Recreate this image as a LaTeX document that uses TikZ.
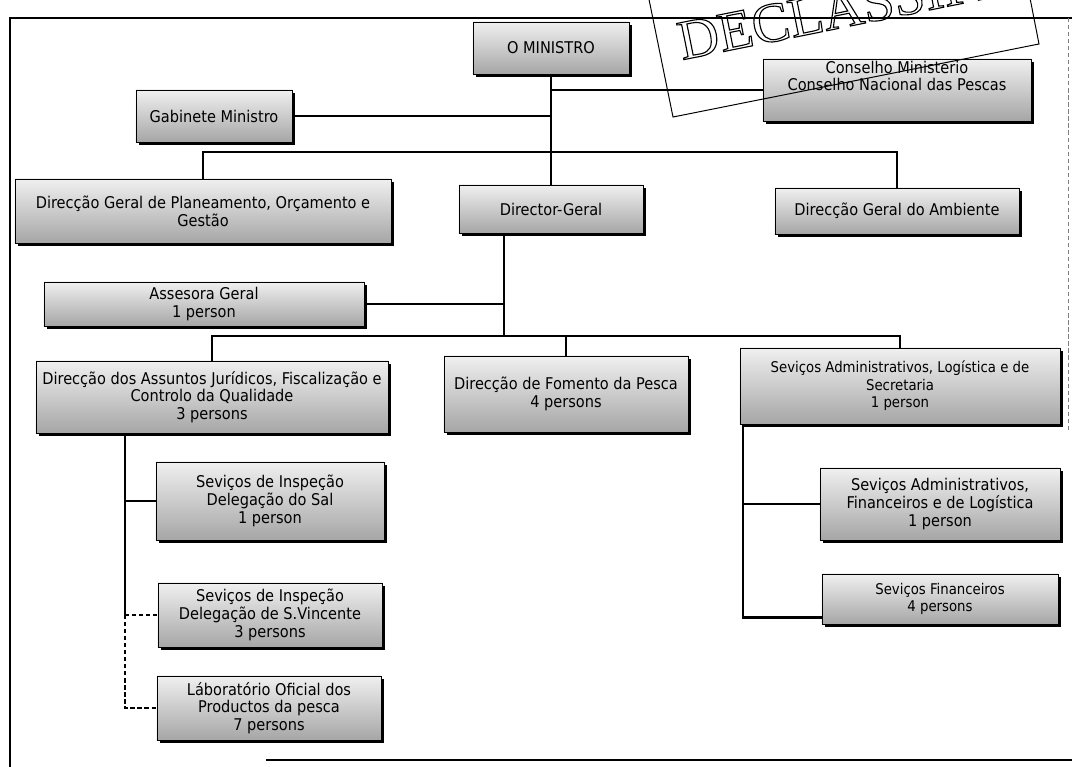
\documentclass[tikz,border=0pt]{standalone}
\usepackage{fontspec}
\setmainfont{DejaVu Sans Condensed}
\newfontfamily\stampfont{Liberation Serif}
\usetikzlibrary{shadows}

\begin{document}
\begin{tikzpicture}[x=0.025cm, y=-0.025cm,
  font=\fontsize{11.5}{12.6}\selectfont,
  box/.style={draw, line width=0.5pt, top color=gray!12, bottom color=gray!70,
    align=center, inner sep=1pt,
    drop shadow={shadow xshift=2pt, shadow yshift=-2pt, fill=black, opacity=1}},
  small/.style={font=\fontsize{10.5}{12.4}\selectfont},
  wire/.style={line width=1.9pt},
  dwire/.style={line width=1.3pt, densely dashed}]
\useasboundingbox (0,0) rectangle (1072,767);
\clip (0,0) rectangle (1072,767);

% page frame
\draw[line width=0.8pt] (1072,18) -- (10,18) -- (10,767);
\draw[line width=0.8pt] (266,760) -- (1072,760);
\draw[gray, densely dashed, line width=0.5pt] (1068,18) -- (1068,430);

% minister and the first row
\node[box, minimum width=3.9cm, minimum height=1.3cm] (mini) at (551,48) {O MINISTRO};
\node[box, minimum width=6.7cm, minimum height=1.55cm, text depth=0.7cm] (cons) at (897,90)
  {Conselho Ministerio\\Conselho Nacional das Pescas};
\node[box, minimum width=3.9cm, minimum height=1.3cm] (gab) at (214,116) {Gabinete Ministro};
\node[box, minimum width=9.4cm, minimum height=1.6cm] (dgp) at (203,211)
  {Direcção Geral de Planeamento, Orçamento e\\Gestão};
\node[box, minimum width=4.6cm, minimum height=1.2cm] (dg) at (551,209) {Director-Geral};
\node[box, minimum width=6.1cm, minimum height=1.15cm] (amb) at (897,211) {Direcção Geral do Ambiente};

% under the director
\node[box, minimum width=8cm, minimum height=1.1cm] (ass) at (204,304) {Assesora Geral\\1 person};
\node[box, minimum width=8.8cm, minimum height=1.8cm] (daj) at (212,397)
  {Direcção dos Assuntos Jurídicos, Fiscalização e\\Controlo da Qualidade\\3 persons};
\node[box, minimum width=6.1cm, minimum height=1.9cm] (fom) at (566,394)
  {Direcção de Fomento da Pesca\\4 persons};
\node[box, small, minimum width=8cm, minimum height=1.9cm] (sal) at (900,386)
  {Seviços Administrativos, Logística e de\\Secretaria\\1 person};

% services
\node[box, minimum width=5.7cm, minimum height=1.95cm] (ds) at (270,501)
  {Seviços de Inspeção\\Delegação do Sal\\1 person};
\node[box, minimum width=5.6cm, minimum height=1.6cm] (sv) at (270,615)
  {Seviços de Inspeção\\Delegação de S.Vincente\\3 persons};
\node[box, minimum width=5.6cm, minimum height=1.6cm] (lab) at (269,708)
  {Láboratório Oficial dos\\Productos da pesca\\7 persons};
\node[box, minimum width=6cm, minimum height=1.8cm] (saf) at (940,504)
  {Seviços Administrativos,\\Financeiros e de Logística\\1 person};
\node[box, small, minimum width=5.9cm, minimum height=1.25cm] (sf) at (940,599)
  {Seviços Financeiros\\4 persons};

% lines
\coordinate (bus1) at (551,152);
\coordinate (bus2) at (504,336);
\coordinate (spineL) at (125,0);
\coordinate (spineR) at (743,0);

\draw[wire] (mini.south) -- (dg.north);
\draw[wire] (mini.south |- cons.west) -- (cons.west);
\draw[wire] (gab.east) -- (gab.east -| mini.south);
\draw[wire] (dgp.north) |- (bus1) -| (amb.north);
\draw[wire] (dg.south -| bus2) -- (bus2);
\draw[wire] (ass.east) -- (ass.east -| bus2);
\draw[wire] (daj.north) |- (bus2) -| (sal.north);
\draw[wire] (bus2 -| fom.north) -- (fom.north);
\draw[wire] (spineL |- daj.south) -- (spineL |- sv.west);
\draw[wire] (spineL |- ds.west) -- (ds.west);
\draw[dwire] (spineL |- sv.west) -- (sv.west);
\draw[dwire] (spineL |- sv.west) |- (lab.west);
\draw[wire] (spineR |- sal.south) |- ([yshift=5pt]sf.south west);
\draw[wire] (spineR |- saf.west) -- (saf.west);

% stamp
\draw[line width=0.7pt] (643,-30) -- (673,117) -- (1039,44) -- (1010,-104);
\node[anchor=base west, rotate=11.4, inner sep=0pt,
  font=\stampfont\fontsize{40}{40}\selectfont] (stamp) at (682,60)
  {\special{pdf:literal direct 1 Tr 0.8 w}DECLASSIFIED\special{pdf:literal direct 0 Tr}};
\end{tikzpicture}
\end{document}
